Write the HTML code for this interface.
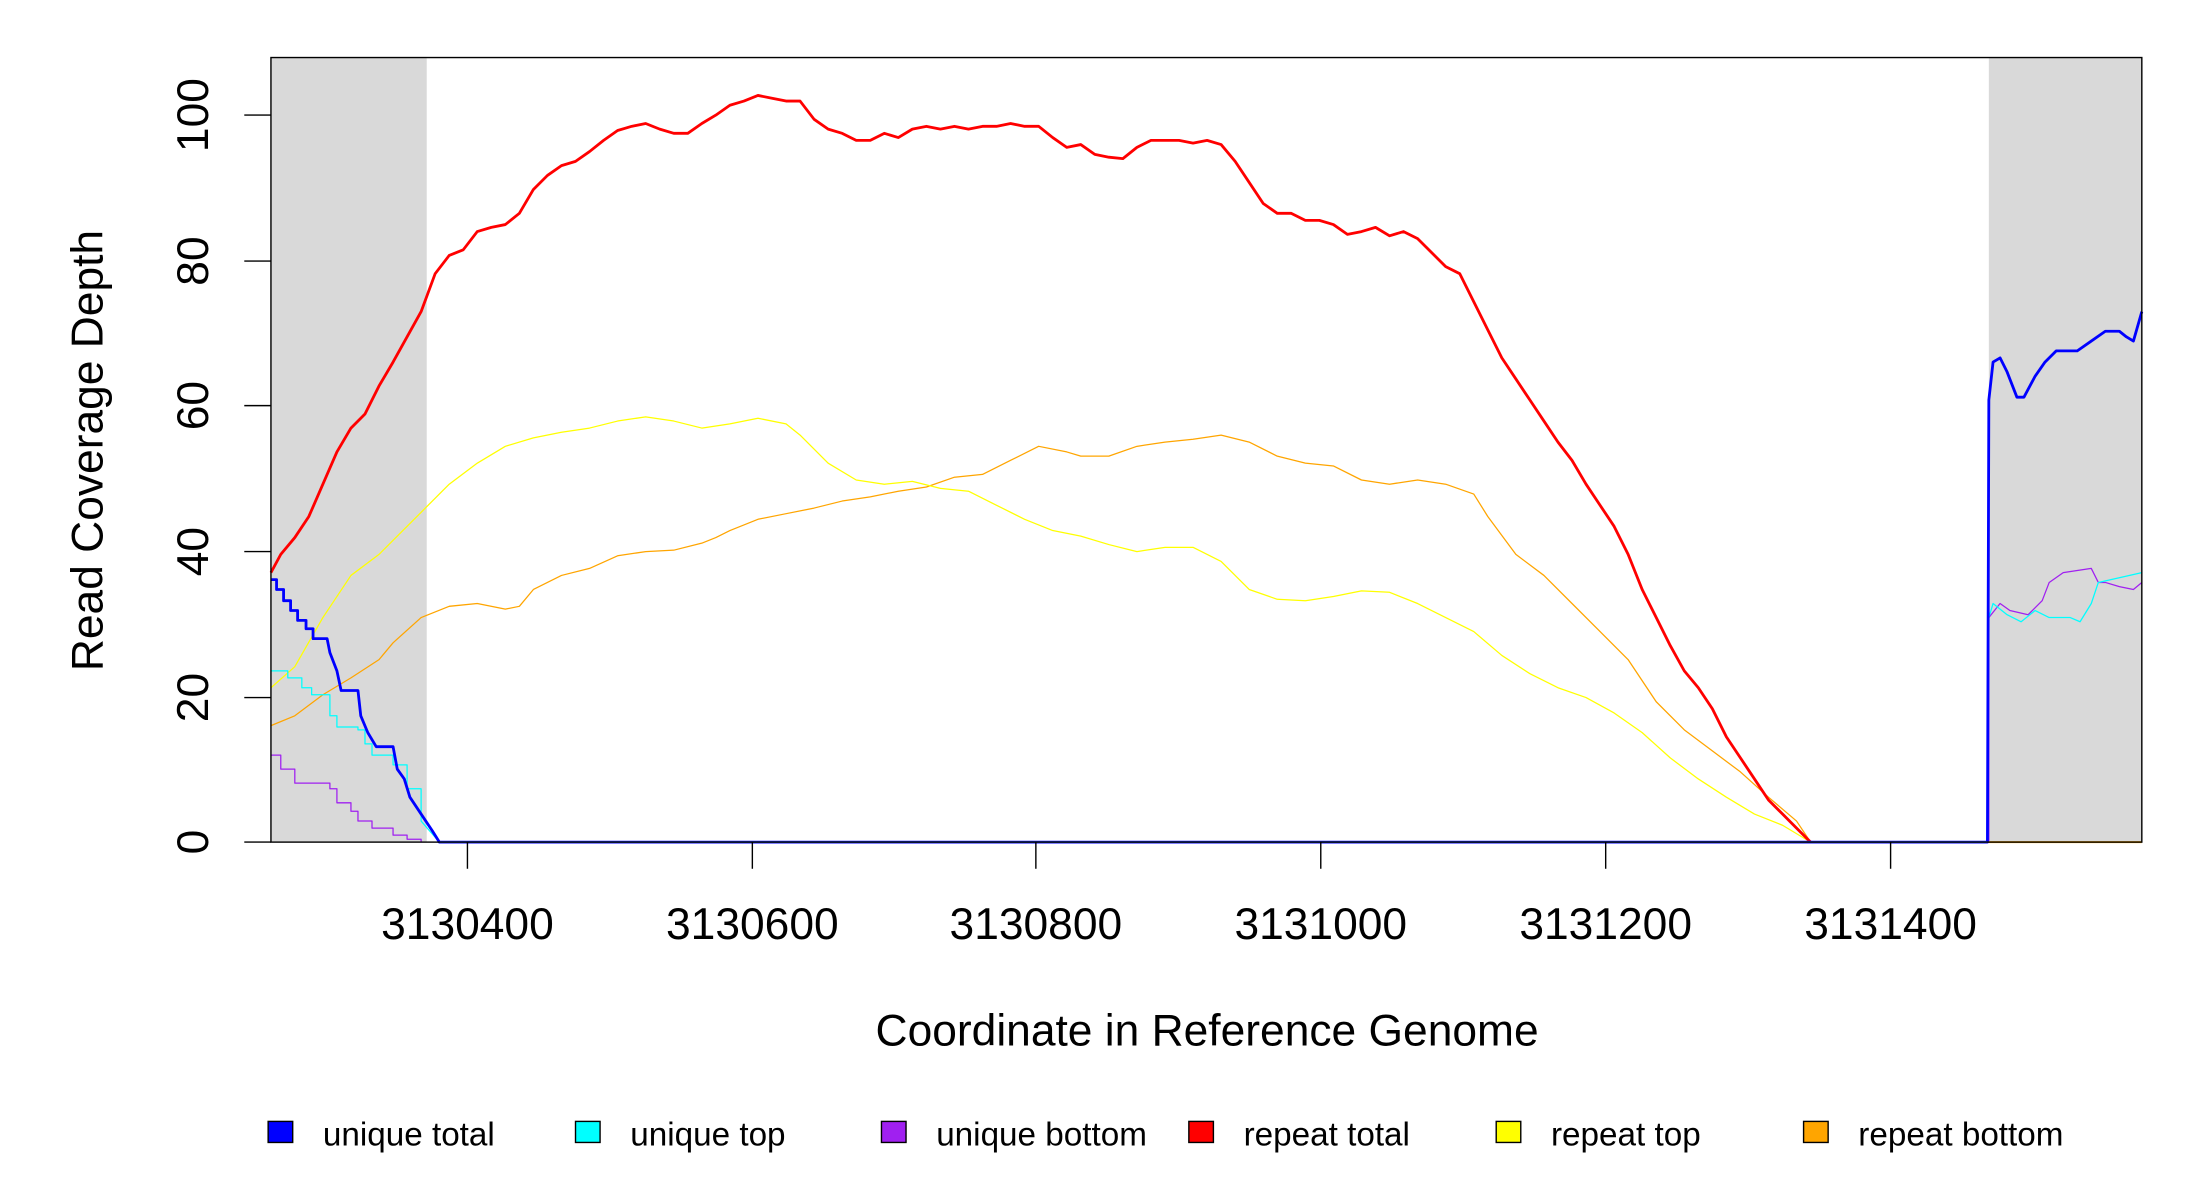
<!DOCTYPE html>
<html><head><meta charset="utf-8"><style>html,body{margin:0;padding:0;background:#fff}svg{display:block}</style></head>
<body>
<svg width="2200" height="1200" viewBox="0 0 1567.4 855" xmlns="http://www.w3.org/2000/svg" font-family="Liberation Sans, sans-serif">
<rect x="193" y="41" width="111" height="559" fill="#d9d9d9"/>
<rect x="1417" y="41" width="109" height="559" fill="#d9d9d9"/>
<g fill="none" stroke-linejoin="round">
<polyline stroke="#ffa500" stroke-width="0.9" points="193,517 210,510 230,495 250,483 270,470 280,458 300,440 320,432 340,430 360,434 370,432 380,420 400,410 420,405 440,396 460,393 480,392 500,387 510,383 520,378 540,370 560,366 580,362 600,357 620,354 640,350 660,347 680,340 700,338 720,328 740,318 760,322 770,325 790,325 810,318 830,315 850,313 870,310 890,315 910,325 930,330 950,332 970,342 990,345 1010,342 1030,345 1050,352 1060,368 1080,395 1100,410 1120,430 1140,450 1160,470 1180,500 1200,520 1220,535 1240,550 1260,568 1280,585 1290,600"/>
<polyline stroke="#ffff00" stroke-width="0.9" points="193,490 210,475 230,440 250,410 270,395 290,375 300,365 320,345 340,330 360,318 380,312 400,308 420,305 440,300 460,297 480,300 500,305 520,302 540,298 560,302 570,310 590,330 610,342 630,345 650,343 670,348 690,350 710,360 730,370 750,378 770,382 790,388 810,393 830,390 850,390 870,400 890,420 910,427 930,428 950,425 970,421 990,422 1010,430 1030,440 1050,450 1070,467 1090,480 1110,490 1130,497 1150,508 1170,522 1190,540 1210,555 1230,568 1250,580 1270,588 1290,600"/>
<polyline stroke="#ff0000" stroke-width="2" points="193,408 200,395 210,383 220,368 230,345 240,322 250,305 260,295 270,275 280,258 290,240 300,222 310,195 320,182 330,178 340,165 350,162 360,160 370,152 380,135 390,125 400,118 410,115 420,108 430,100 440,93 450,90 460,88 470,92 480,95 490,95 500,88 510,82 520,75 530,72 540,68 550,70 560,72 570,72 580,85 590,92 600,95 610,100 620,100 630,95 640,98 650,92 660,90 670,92 680,90 690,92 700,90 710,90 720,88 730,90 740,90 750,98 760,105 770,103 780,110 790,112 800,113 810,105 820,100 830,100 840,100 850,102 860,100 870,103 880,115 890,130 900,145 910,152 920,152 930,157 940,157 950,160 960,167 970,165 980,162 990,168 1000,165 1010,170 1020,180 1030,190 1040,195 1050,215 1060,235 1070,255 1080,270 1090,285 1100,300 1110,315 1120,328 1130,345 1140,360 1150,375 1160,395 1170,420 1180,440 1190,460 1200,478 1210,490 1220,505 1230,525 1240,540 1250,555 1260,570 1270,580 1280,590 1290,600"/>
<polyline stroke="#a020f0" stroke-width="0.9" points="193,538 200,538 200,548 210,548 210,558 235,558 235,562 240,562 240,572 250,572 250,578 255,578 255,585 265,585 265,590 280,590 280,595 290,595 290,598 300,598 300,600"/>
<polyline stroke="#a020f0" stroke-width="0.9" points="1417,600 1417,440 1425,430 1432,435 1445,438 1455,428 1460,415 1470,408 1490,405 1495,415 1500,415 1510,418 1520,420 1526,415"/>
<polyline stroke="#00ffff" stroke-width="0.9" points="193,478 205,478 205,483 215,483 215,490 222,490 222,495 235,495 235,510 240,510 240,518 255,518 255,520 260,520 260,530 265,530 265,538 280,538 280,545 290,545 290,562 300,562 300,585 313,600"/>
<polyline stroke="#00ffff" stroke-width="0.9" points="1417,440 1420,430 1430,438 1440,443 1450,435 1460,440 1475,440 1482,443 1490,430 1495,415 1526,408"/>
<polyline stroke="#0000ff" stroke-width="2" points="193,413 197,413 197,420 202,420 202,428 207,428 207,435 212,435 212,442 218,442 218,448 223,448 223,455 233,455 235,465 240,478 243,492 255,492 257,510 262,522 268,532 280,532 283,548 288,555 292,568 300,580 308,592 313,600 1416,600 1417,285 1420,258 1425,255 1430,265 1437,283 1442,283 1450,268 1457,258 1465,250 1480,250 1490,243 1500,236 1510,236 1515,240 1520,243 1526,222"/>
<line x1="313" y1="600" x2="1416" y2="600" stroke="#4169e1" stroke-width="1.2"/>
<line x1="1417" y1="600" x2="1526" y2="600" stroke="#ffa500" stroke-width="1.4"/>
</g>
<rect x="193" y="41" width="1333" height="559" fill="none" stroke="#000" stroke-width="1"/>
<g stroke="#000" stroke-width="1">
<line x1="174" y1="600" x2="193" y2="600"/><line x1="174" y1="497" x2="193" y2="497"/><line x1="174" y1="393" x2="193" y2="393"/><line x1="174" y1="289" x2="193" y2="289"/><line x1="174" y1="186" x2="193" y2="186"/><line x1="174" y1="82" x2="193" y2="82"/>
<line x1="333" y1="600" x2="333" y2="619"/><line x1="536" y1="600" x2="536" y2="619"/><line x1="738" y1="600" x2="738" y2="619"/><line x1="941" y1="600" x2="941" y2="619"/><line x1="1144" y1="600" x2="1144" y2="619"/><line x1="1347" y1="600" x2="1347" y2="619"/>
</g>
<g font-size="31.6" text-anchor="middle" fill="#000">
<text x="333" y="669">3130400</text><text x="536" y="669">3130600</text><text x="738" y="669">3130800</text><text x="941" y="669">3131000</text><text x="1144" y="669">3131200</text><text x="1347" y="669">3131400</text>
<text transform="translate(148,600) rotate(-90)">0</text>
<text transform="translate(148,497) rotate(-90)">20</text>
<text transform="translate(148,393) rotate(-90)">40</text>
<text transform="translate(148,289) rotate(-90)">60</text>
<text transform="translate(148,186) rotate(-90)">80</text>
<text transform="translate(148,82) rotate(-90)">100</text>
<text x="860" y="745">Coordinate in Reference Genome</text>
<text transform="translate(73,321) rotate(-90)">Read Coverage Depth</text>
</g>
<g font-size="23.7" fill="#000" stroke-width="1">
<rect x="191" y="799" width="17.5" height="15" fill="#0000ff" stroke="#000"/><text x="230" y="816">unique total</text>
<rect x="410" y="799" width="17.5" height="15" fill="#00ffff" stroke="#000"/><text x="449" y="816">unique top</text>
<rect x="628" y="799" width="17.5" height="15" fill="#a020f0" stroke="#000"/><text x="667" y="816">unique bottom</text>
<rect x="847" y="799" width="17.5" height="15" fill="#ff0000" stroke="#000"/><text x="886" y="816">repeat total</text>
<rect x="1066" y="799" width="17.5" height="15" fill="#ffff00" stroke="#000"/><text x="1105" y="816">repeat top</text>
<rect x="1285" y="799" width="17.5" height="15" fill="#ffa500" stroke="#000"/><text x="1324" y="816">repeat bottom</text>
</g>
</svg>
</body></html>
